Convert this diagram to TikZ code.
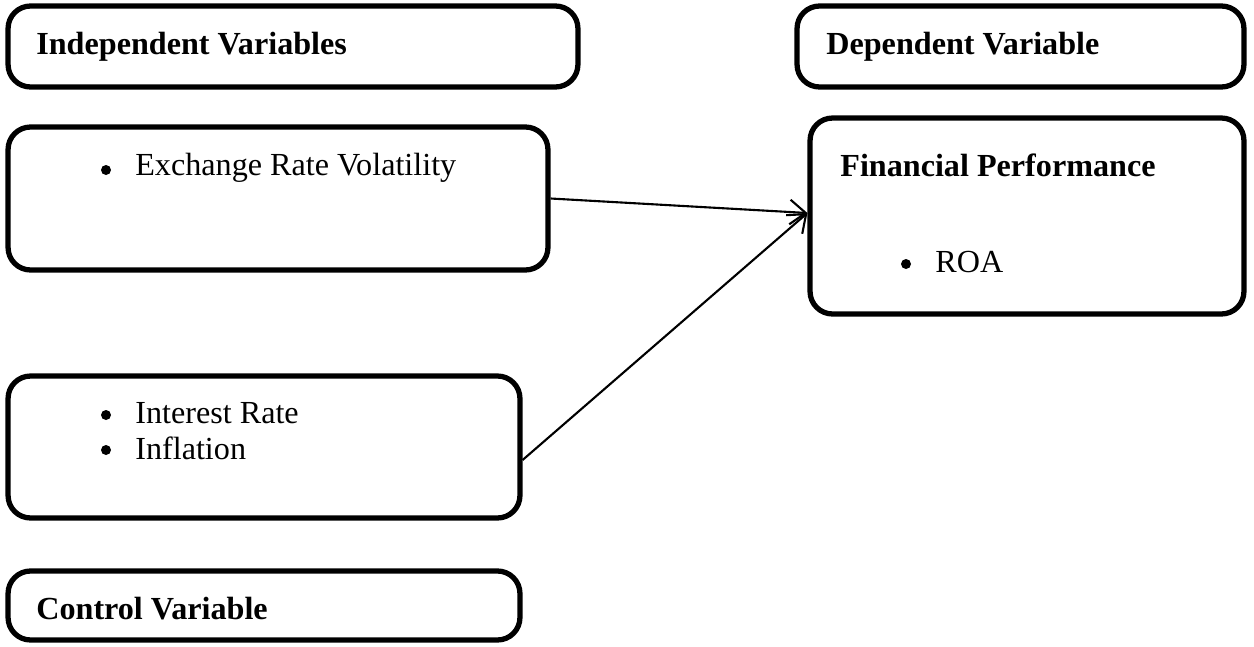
\documentclass[tikz,border=0pt]{standalone}
\usepackage{fontspec}
\setmainfont{Liberation Serif}
\usetikzlibrary{arrows.meta}

\tikzset{
  varbox/.style={draw, line width=3pt, rounded corners=0.45cm, inner sep=0pt},
  title/.style={anchor=west, inner sep=0pt, font=\fontsize{18.3}{22}\selectfont\bfseries},
  item/.style={anchor=west, inner sep=0pt, font=\fontsize{18.3}{22}\selectfont},
  dot/.style={circle, fill, inner sep=0pt, minimum size=0.2cm},
  link/.style={line width=1.2pt, -{Straight Barb[length=9pt, width=14pt, line width=1.2pt]}}
}

\begin{document}
\begin{tikzpicture} [x=0.02cm, y=-0.02cm]
\useasboundingbox (0,0) rectangle (1254,646);
% boxes
\node[varbox, minimum width=11.4cm, minimum height=1.62cm] (indep) at (293,46.5) {};
\node[varbox, minimum width=8.94cm, minimum height=1.62cm] (dep) at (1020.5,46.5) {};
\node[varbox, minimum width=10.8cm, minimum height=2.86cm] (exch) at (278,198.5) {};
\node[varbox, minimum width=8.68cm, minimum height=3.92cm] (fin) at (1027,216) {};
\node[varbox, minimum width=10.24cm, minimum height=2.84cm] (inter) at (264,447) {};
\node[varbox, minimum width=10.24cm, minimum height=1.38cm] (ctrl) at (264,605.5) {};
% titles
\node[title] (indepT) at (36,47) {Independent Variables};
\node[title] (depT) at (826,47) {Dependent Variable};
\node[title] (finT) at (840,165) {Financial Performance};
\node[title] (ctrlT) at (36,609) {Control Variable};
% bullet items
\node[dot] (b1) at (106,170) {};
\node[item] (exchT) at (135,168) {Exchange Rate Volatility};
\node[dot] (b2) at (106,415) {};
\node[item] (interT) at (135,413) {Interest Rate};
\node[dot] (b3) at (106,450) {};
\node[item] (inflT) at (135,448) {Inflation};
\node[dot] (b4) at (906,264) {};
\node[item] (roaT) at (935,262) {ROA};
% connectors
\coordinate (interOut) at ([yshift=-0.26cm]inter.east);
\coordinate (finIn) at ([yshift=0.06cm]fin.west);
\draw[link] (exch.east) -- (finIn);
\draw[link] (interOut) -- (finIn);
\end{tikzpicture}
\end{document}
